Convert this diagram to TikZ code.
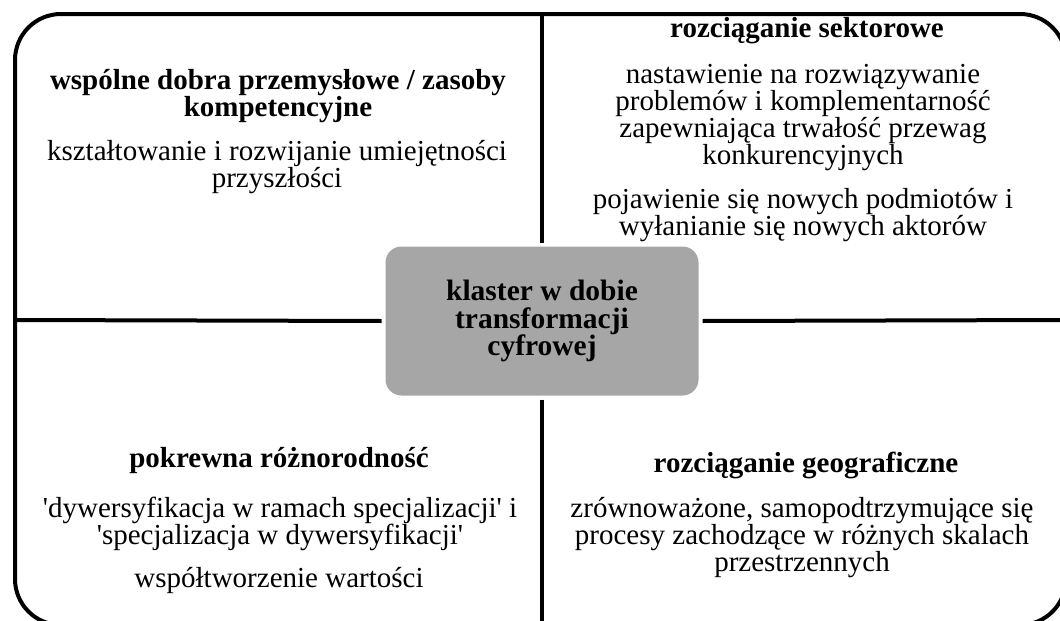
\documentclass[tikz,border=0pt]{standalone}
\usepackage{fontspec}
\setmainfont{Liberation Serif}
\definecolor{hubgray}{HTML}{A6A6A6}
\tikzset{
  head/.style={font=\fontsize{29}{27}\selectfont\bfseries, align=center, anchor=base, inner sep=0pt},
  body/.style={font=\fontsize{29}{27}\selectfont, align=center, anchor=base, inner sep=0pt},
  frame/.style={line width=4pt},
  hub/.style={fill=hubgray, rounded corners=16pt, minimum width=313pt, minimum height=149pt,
    outer sep=4pt, align=center, font=\fontsize{29.5}{27.5}\selectfont\bfseries}
}
\begin{document}
\begin{tikzpicture}[x=1pt, y=-1pt]
  \path[use as bounding box, clip] (0,0) rectangle (1060,621);
  % outer frame
  \draw[frame, rounded corners=46pt] (15,14) rectangle (1066,625);

  % centre
  \node[hub] (klaster) at (542,321) {klaster w dobie\\transformacji\\cyfrowej};

  \coordinate (topmid) at (542,14);
  \coordinate (botmid) at (542,625);
  \coordinate (leftmid) at (15,320);
  \coordinate (rightmid) at (1066,320);
  \draw[frame] (klaster.north) -- (topmid);
  \draw[frame] (klaster.south) -- (botmid);
  \draw[frame] (klaster.west) -- (leftmid);
  \draw[frame] (klaster.east) -- (rightmid);

  % top left (anchored at last baseline)
  \node[head] (tlhead) at (278,116) {wspólne dobra przemysłowe / zasoby\\kompetencyjne};
  \node[body] (tlbody) at (277,187.5) {kształtowanie i rozwijanie umiejętności\\przyszłości};

  % top right
  \node[head] (trhead) at (807,37) {rozciąganie sektorowe};
  \node[body] (trbodya) at (803,164.5) {nastawienie na rozwiązywanie\\problemów i komplementarność\\zapewniająca trwałość przewag\\konkurencyjnych};
  \node[body] (trbodyb) at (803,235) {pojawienie się nowych podmiotów i\\wyłanianie się nowych aktorów};

  % bottom left
  \node[head] (blhead) at (279,467) {pokrewna różnorodność};
  \node[body] (blbodya) at (280,544.5) {\textquotesingle dywersyfikacja w ramach specjalizacji\textquotesingle{} i\\\textquotesingle specjalizacja w dywersyfikacji\textquotesingle};
  \node[body] (blbodyb) at (279,587) {współtworzenie wartości};

  % bottom right
  \node[head] (brhead) at (806,472) {rozciąganie geograficzne};
  \node[body] (brbody) at (802,571) {zrównoważone, samopodtrzymujące się\\procesy zachodzące w różnych skalach\\przestrzennych};
\end{tikzpicture}
\end{document}
